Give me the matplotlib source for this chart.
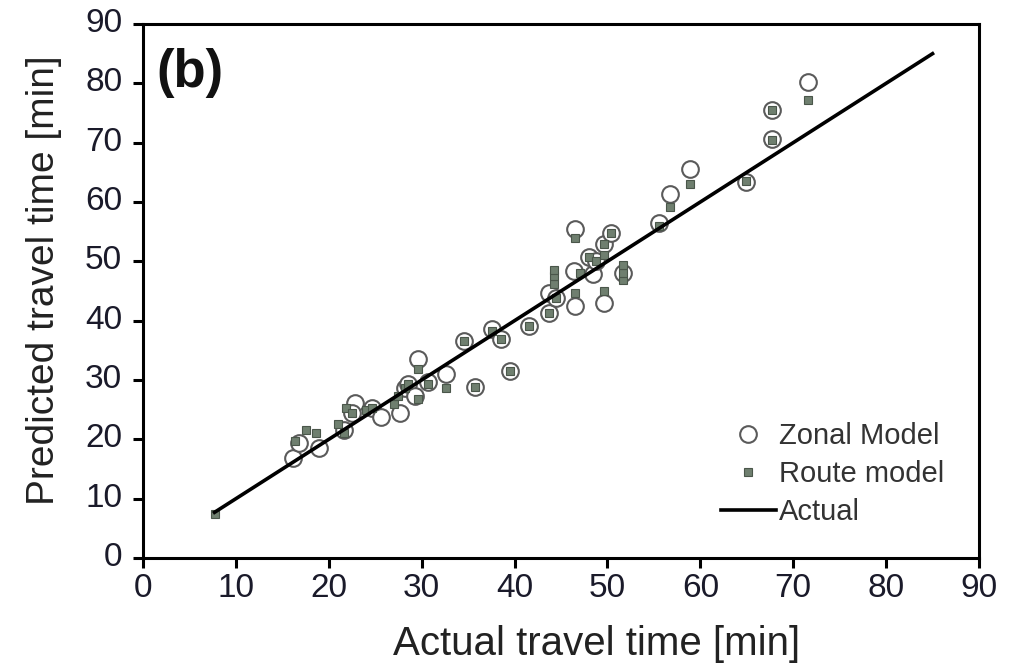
import matplotlib
matplotlib.use("Agg")
import matplotlib.pyplot as plt
import matplotlib.transforms as mtransforms

plt.rcParams['font.family'] = ['Liberation Sans', 'DejaVu Sans']

# zonal model predictions (open circles)
zonal_x = [16.2, 16.8, 18.9, 21.6, 22.8, 22.5, 24.6, 25.6, 27.7, 28.2, 28.5, 29.3, 29.6, 30.7,
           32.6, 34.6, 35.7, 37.6, 38.5, 39.5, 41.6, 43.7, 43.7, 44.5, 46.5, 46.4, 46.5, 48.0,
           48.5, 48.8, 49.6, 49.6, 50.4, 51.7, 55.6, 56.7, 58.9, 64.9, 67.7, 67.7, 71.6]
zonal_y = [16.8, 19.3, 18.5, 21.5, 26.2, 24.5, 25.2, 23.7, 24.5, 28.7, 29.3, 27.3, 33.5, 29.6,
           31.0, 36.6, 28.8, 38.6, 36.9, 31.5, 39.1, 41.3, 44.7, 43.8, 42.4, 48.3, 55.4, 50.8,
           47.8, 50.0, 43.0, 53.0, 54.7, 48.0, 56.4, 61.4, 65.6, 63.4, 70.6, 75.5, 80.2]

# route model predictions (small squares)
route_x = [7.7, 16.4, 17.6, 18.6, 21.0, 21.6, 21.8, 22.5, 24.0, 24.6, 27.0, 27.5, 28.2, 28.5,
           29.6, 29.6, 30.7, 32.6, 34.6, 35.7, 37.6, 38.5, 39.5, 41.6, 43.7, 44.5, 44.3, 44.3,
           44.3, 46.5, 46.5, 47.0, 48.0, 48.8, 49.6, 49.6, 49.6, 50.4, 51.7, 51.7, 51.7, 55.6,
           56.7, 58.9, 64.9, 67.7, 67.7, 71.6]
route_y = [7.5, 19.8, 21.5, 21.1, 22.6, 21.1, 25.2, 24.5, 25.0, 25.2, 26.0, 27.3, 28.7, 29.3,
           26.8, 31.9, 29.3, 28.6, 36.6, 28.8, 38.2, 36.9, 31.5, 39.1, 41.3, 43.8, 46.2, 47.5,
           48.5, 44.7, 53.9, 48.0, 50.8, 50.0, 45.0, 51.0, 53.0, 54.7, 46.8, 48.0, 49.3, 56.0,
           59.2, 63.1, 63.6, 70.4, 75.5, 77.2]

# actual = predicted reference line
actual_x = [7.7, 85.0]
actual_y = [7.7, 85.0]

fig = plt.figure(figsize=(10.15, 6.67), dpi=100)
ax = fig.add_axes([0.1409, 0.1634, 0.8236, 0.8006])

ax.plot(zonal_x, zonal_y, 'o', ms=12, mfc='white', mec='#5a5a5a', mew=1.5,
        label='Zonal Model', zorder=2)
ax.plot(route_x, route_y, 's', ms=6, mfc='#6f7f6f', mec='#4a564a', mew=0.8,
        label='Route model', zorder=3)
ax.plot(actual_x, actual_y, '-', color='black', lw=2.6, label='Actual', zorder=4)

ax.set_xlim(0, 90)
ax.set_ylim(0, 90)
ax.set_xticks(range(0, 91, 10))
ax.set_yticks(range(0, 91, 10))
ax.tick_params(direction='out', length=7, width=2.2, labelsize=24, labelcolor='#1a1a2a')
ax.tick_params(axis='x', pad=4)
ax.tick_params(axis='y', pad=8)
for s in ax.spines.values():
    s.set_linewidth(2.2)

# y tick labels sit a little above their ticks in the original
up = mtransforms.ScaledTranslation(0, 4 / 100, fig.dpi_scale_trans)
for lab in ax.get_yticklabels():
    lab.set_transform(lab.get_transform() + up)

ax.set_xlabel('Actual travel time [min]', fontsize=29, color='#222222')
ax.set_ylabel('Predicted travel time [min]', fontsize=28, color='#222222')
ax.xaxis.set_label_coords(0.543, -0.125)
ax.yaxis.set_label_coords(-0.097, 0.52)

ax.text(0.016, 0.955, '(b)', transform=ax.transAxes, fontsize=38, fontweight='bold',
        va='top', ha='left', color='#111111')

ax.legend(loc='lower right', bbox_to_anchor=(0.99, 0.01), frameon=False, fontsize=21,
          handlelength=1.9, handletextpad=0.1, labelspacing=0.35, labelcolor='#333333')

fig.savefig('out.png', dpi=100)
